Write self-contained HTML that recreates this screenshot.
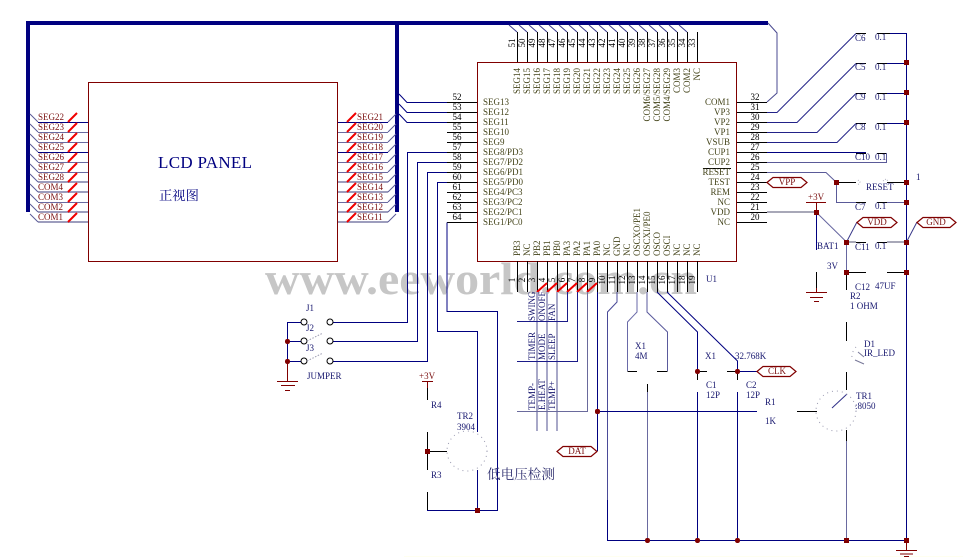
<!DOCTYPE html>
<html><head><meta charset="utf-8"><style>
html,body{margin:0;padding:0;background:#fff}
svg{display:block}
text{font-family:"Liberation Serif","Noto Serif CJK SC",serif;font-size:9px}
.c text,text.c{fill:#44441a}
.n text{fill:#000}
.b text,text.b{fill:#16166e}
.m text,text.m{fill:#7a1010}
.t path{fill:#fff;stroke:#800000;stroke-width:1.2}
</style></head><body>
<svg width="963" height="557" viewBox="0 0 963 557" xmlns="http://www.w3.org/2000/svg" fill="none" shape-rendering="auto">
<rect x="404" y="556" width="559" height="1" fill="#fffff0"/>
<text x="265" y="294" textLength="432" lengthAdjust="spacingAndGlyphs" style="font-size:46px;font-weight:bold;fill:#c6c6c6">www.eeworld.com.cn</text>

<!-- buses -->
<path d="M28 212V23H768M397 23V212" stroke="#000080" stroke-width="4"/>
<path d="M768 23L777 33V93L767 102" stroke="#4a4a90"/>

<!-- LCD panel and chip -->
<rect x="88.5" y="82.5" width="249" height="179" stroke="#800000"/>
<rect x="477.5" y="62.5" width="259" height="199" stroke="#800000"/>

<!-- LCD pins -->
<path d="M38 122.5H88M38 152.5H88M338 122.5H388M338 152.5H388" stroke="#000080"/>
<path d="M38 132.5H88M38 142.5H88M38 162.5H88M38 172.5H88M38 202.5H88M338 132.5H388M338 142.5H388M338 162.5H388M338 172.5H388M338 202.5H388" stroke="#6a6aa0"/>
<path d="M38 182H88M38 192H88M38 212H88M38 222H88M338 182H388M338 192H388M338 212H388M338 222H388" stroke="#9d9dbd" stroke-width="2"/>
<path d="M30 114l8 8M30 124l8 8M30 134l8 8M30 144l8 8M30 154l8 8M30 164l8 8M30 174l8 8M30 184l8 8M30 194l8 8M30 204l8 8M30 214l8 8M388 122l8-8M388 132l8-8M388 142l8-8M388 152l8-8M388 162l8-8M388 172l8-8M388 182l8-8M388 192l8-8M388 202l8-8M388 212l8-8M388 222l8-8" stroke="#5a5a98"/>
<path d="M68 122l9-9M68 132l9-9M68 142l9-9M68 152l9-9M68 162l9-9M68 172l9-9M68 182l9-9M68 192l9-9M68 202l9-9M68 212l9-9M68 222l9-9M347 122l9-9M347 132l9-9M347 142l9-9M347 152l9-9M347 162l9-9M347 172l9-9M347 182l9-9M347 192l9-9M347 202l9-9M347 212l9-9M347 222l9-9" stroke="#f00000" stroke-width="2"/>

<!-- chip pins -->
<path d="M447 102.5H477M447 112.5H477M447 122.5H477M447 132.5H477M447 142.5H477M447 152.5H477M447 162.5H477M447 172.5H477M447 182.5H477M447 192.5H477M447 202.5H477M447 212.5H477M447 222.5H477M737 102.5H767M737 112.5H767M737 122.5H767M737 132.5H767M737 142.5H767M737 152.5H767M737 162.5H767M737 172.5H767M737 182.5H767M737 192.5H767M737 202.5H767M737 212.5H767M737 222.5H767" stroke="#000"/>
<path d="M517.5 32V62M527.5 32V62M537.5 32V62M547.5 32V62M557.5 32V62M567.5 32V62M577.5 32V62M587.5 32V62M597.5 32V62M607.5 32V62M617.5 32V62M627.5 32V62M637.5 32V62M647.5 32V62M657.5 32V62M667.5 32V62M677.5 32V62M687.5 32V62M697.5 32V62M517.5 261V292M527.5 261V292M537.5 261V292M547.5 261V292M557.5 261V292M567.5 261V292M577.5 261V292M587.5 261V292M597.5 261V292M607.5 261V292M617.5 261V292M627.5 261V292M637.5 261V292M647.5 261V292M657.5 261V292M667.5 261V292M677.5 261V292M687.5 261V292M697.5 261V292" stroke="#000"/>
<path d="M509 25l8 7M519 25l8 7M529 25l8 7M539 25l8 7M549 25l8 7M559 25l8 7M569 25l8 7M579 25l8 7M589 25l8 7M599 25l8 7M609 25l8 7M619 25l8 7M629 25l8 7M639 25l8 7M649 25l8 7M659 25l8 7M669 25l8 7M679 25l8 7" stroke="#3a3a8a"/>
<path d="M537 292l10-9M547 292l10-9M557 292l10-9M567 292l10-9M577 292l10-9M587 292l10-9" stroke="#f00000" stroke-width="2"/>
<path d="M703 168.5H731" stroke="#000"/>

<!-- left chip wires -->
<path d="M399 94l8 8.5H447M399 104l8 8.5H447M399 114l8 8.5H447" stroke="#000080"/>
<path d="M447 152.5H407.5V322.5H333M447 162.5H417.5V341.5H333M447 172.5H427.5V361.5H333M447 182.5H437.5V331.5H477.5V432M447 222.5V311.5H497.5V510.5H427.5V501M477.5 470V510" stroke="#000080"/>

<!-- bottom wires -->
<path d="M537 292V431M547 292V431M557 292V431" stroke="#a8a8c8" stroke-width="2"/>
<path d="M567.5 292V321.5H517M577.5 292V361.5H517" stroke="#1a1a88"/>
<path d="M587.5 292V411.5H517" stroke="#6a6a9c"/>
<path d="M597.5 292V451" stroke="#000080"/>
<path d="M617 292V302L607.5 312V540.5H906.5" stroke="#4a4a98"/>
<path d="M607.5 500V540.5H906.5" stroke="#000080"/>
<path d="M637 292V312L627.5 322V371" stroke="#6a6aa8"/>
<path d="M647 292V312L667.5 332V371" stroke="#5a5a9c"/>
<path d="M627.5 371.5H637M657 371.5H667.5M647.5 384V392" stroke="#000"/>
<path d="M647.5 392V540" stroke="#6a6aa0"/>
<path d="M657 292L697.5 332V371.5M667 292L737.5 361V371.5" stroke="#000080"/>
<path d="M697 371.5H707M727 371.5H737M697.5 371.5V380M737.5 371.5V380" stroke="#000"/>
<path d="M737 371.5H757M697.5 392V540M737.5 392V540" stroke="#000080"/>
<path d="M597 411.5H757" stroke="#000080"/>
<path d="M797 411.5H817" stroke="#000"/>

<!-- right wires -->
<path d="M767 112.5H777L856 33.5M767 122.5H797L856 63.5M767 132.5H817L856 93.5M767 142.5H837L856 123.5" stroke="#222288"/>
<path d="M856 33.5H866M856 63.5H866M856 93.5H866M856 123.5H866M856 153.5H866M877 33.5H890M877 63.5H887M877 93.5H887M877 123.5H887M877 153.5H886M839 182.5H856M887 182.5H905M856 202.5H866M877 202.5H887M856 242.5H866M877 242.5H887M846 272.5H866M887 272.5H906" stroke="#000"/>
<path d="M890 33.5H906.5V540M887 63.5H906M887 93.5H906M887 123.5H906M767 152.5H866M836.5 182.5" stroke="#000080"/>
<path d="M767 162.5H886.5V153M767 172.5H826L836.5 182.5M836.5 182.5V202.5H856M887 202.5H906" stroke="#5a5a98"/>
<path d="M767 212H816M846 242H856M887 242H906" stroke="#a8a8b8" stroke-width="2"/>
<path d="M816 212L846.5 242V272" stroke="#6666a0"/>
<path d="M846.5 242L857 222M906.5 242L917 222" stroke="#3a3a8a"/>
<path d="M816.5 212V250" stroke="#000080"/>
<path d="M816.5 272V290M846.5 272V290M846.5 322V341M846.5 372V390M846.5 430V441" stroke="#000"/>
<path d="M846.5 441V540" stroke="#6a6aa0"/>
<path d="M832 408L847 394" stroke="#303088"/>
<path d="M858 352L864 357M855 360L864 364" stroke="#777798"/>

<!-- grounds, power -->
<path d="M816.5 288V292M806 292.5H827M810 297.5H823M814 301.5H819M906.5 540V550M896 550.5H917M900 554H913M904 556.5H909M806 202.5H826M816.5 202.5V212M287.5 361V381M277 381.5H298M281 385.5H295M285 390.5H290M422 381.5H433M427.5 381V388" stroke="#800000"/>
<path d="M427.5 388V400M427.5 432V470M427.5 492V510" stroke="#000"/>
<path d="M427.5 451.5H447" stroke="#000"/>

<!-- jumpers -->
<path d="M333 322.5H330M287.5 322V361M287.5 322.5H301M287.5 341.5H301M287.5 361.5H301" stroke="#000080"/>
<circle cx="304" cy="322" r="3" fill="#fff" stroke="#000"/><circle cx="304" cy="341" r="3" fill="#fff" stroke="#000"/><circle cx="304" cy="361" r="3" fill="#fff" stroke="#000"/>
<circle cx="330" cy="322" r="3" fill="#fff" stroke="#000"/><circle cx="330" cy="341" r="3" fill="#fff" stroke="#000"/><circle cx="330" cy="361" r="3" fill="#fff" stroke="#000"/>
<path d="M307 341L323 333M307 361L323 353" stroke="#9a9ab0" stroke-dasharray="1.5 1.5"/>

<!-- dotted shapes -->
<g stroke="#9a9ab0" stroke-dasharray="1 4">
<circle cx="467" cy="451" r="20"/>
<circle cx="836" cy="411" r="20"/>
<path d="M856 347A15 15 0 0 0 852 359"/>
</g>
<path d="M858 180l2 2l-2 3M883 181l3-2l2 2" stroke="#b0b0c0" stroke-dasharray="1 1.5"/>

<!-- junctions -->
<g fill="#800000">
<rect x="285" y="339" width="5" height="5" rx="2.2"/><rect x="285" y="359" width="5" height="5" rx="2.2"/>
<rect x="425" y="449" width="5" height="5"/><rect x="475" y="508" width="5" height="5"/>
<rect x="595" y="409" width="5" height="5" rx="2"/><rect x="645" y="538" width="5" height="5" rx="2.2"/>
<rect x="695" y="538" width="5" height="5" rx="2.2"/><rect x="735" y="538" width="5" height="5" rx="2.2"/>
<rect x="844" y="538" width="5" height="5"/><rect x="904" y="538" width="5" height="5"/>
<rect x="695" y="369" width="5" height="5" rx="2.2"/><rect x="735" y="369" width="5" height="5" rx="2.2"/>
<rect x="904" y="60" width="5" height="5"/><rect x="904" y="90" width="5" height="5"/>
<rect x="904" y="120" width="5" height="5"/><rect x="904" y="180" width="5" height="5"/>
<rect x="904" y="200" width="5" height="5"/><rect x="904" y="240" width="5" height="5"/>
<rect x="904" y="270" width="5" height="5"/><rect x="834" y="180" width="5" height="5"/>
<rect x="814" y="210" width="5" height="5"/><rect x="844" y="240" width="5" height="5"/>
<rect x="844" y="270" width="5" height="5"/>
</g>

<!-- tags -->
<g class="t">
<path d="M767 182.5L773 177.5H801L807 182.5L801 187.5H773Z"/>
<path d="M857 222.5L863 217.5H891L897 222.5L891 227.5H863Z"/>
<path d="M917 222.5L923 217.5H950L956 222.5L950 227.5H923Z"/>
<path d="M757 371.5L763 366.5H790L796 371.5L790 376.5H763Z"/>
<path d="M557 451.5L563 446.5H591L597 451.5L591 456.5H563Z"/>
</g>
<g class="m" text-anchor="middle">
<text x="787" y="185">VPP</text><text x="877" y="225">VDD</text><text x="936" y="225">GND</text><text x="777" y="374">CLK</text><text x="577" y="454">DAT</text>
</g>

<!-- LCD text -->
<text x="158" y="168" textLength="94" style="font-size:17px" fill="#000080">LCD PANEL</text>
<text x="159" y="200" style="font-size:13.3px" fill="#000080">正视图</text>
<g class="m">
<text x="38" y="120">SEG22</text><text x="38" y="130">SEG23</text><text x="38" y="140">SEG24</text><text x="38" y="150">SEG25</text><text x="38" y="160">SEG26</text><text x="38" y="170">SEG27</text><text x="38" y="180">SEG28</text><text x="38" y="190">COM4</text><text x="38" y="200">COM3</text><text x="38" y="210">COM2</text><text x="38" y="220">COM1</text>
<text x="357" y="120">SEG21</text><text x="357" y="130">SEG20</text><text x="357" y="140">SEG19</text><text x="357" y="150">SEG18</text><text x="357" y="160">SEG17</text><text x="357" y="170">SEG16</text><text x="357" y="180">SEG15</text><text x="357" y="190">SEG14</text><text x="357" y="200">SEG13</text><text x="357" y="210">SEG12</text><text x="357" y="220">SEG11</text>
</g>

<!-- chip left/right labels -->
<g class="c">
<text x="483" y="105">SEG13</text><text x="483" y="115">SEG12</text><text x="483" y="125">SEG11</text><text x="483" y="135">SEG10</text><text x="483" y="145">SEG9</text><text x="483" y="155">SEG8/PD3</text><text x="483" y="165">SEG7/PD2</text><text x="483" y="175">SEG6/PD1</text><text x="483" y="185">SEG5/PD0</text><text x="483" y="195">SEG4/PC3</text><text x="483" y="205">SEG3/PC2</text><text x="483" y="215">SEG2/PC1</text><text x="483" y="225">SEG1/PC0</text>
</g>
<g class="c" text-anchor="end">
<text x="730" y="105">COM1</text><text x="730" y="115">VP3</text><text x="730" y="125">VP2</text><text x="730" y="135">VP1</text><text x="730" y="145">VSUB</text><text x="730" y="155">CUP1</text><text x="730" y="165">CUP2</text><text x="730" y="175">RESET</text><text x="730" y="185">TEST</text><text x="730" y="195">REM</text><text x="730" y="205">NC</text><text x="730" y="215">VDD</text><text x="730" y="225">NC</text>
</g>

<!-- pin numbers -->
<g class="n" text-anchor="middle">
<text x="457" y="100">52</text><text x="457" y="110">53</text><text x="457" y="120">54</text><text x="457" y="130">55</text><text x="457" y="140">56</text><text x="457" y="150">57</text><text x="457" y="160">58</text><text x="457" y="170">59</text><text x="457" y="180">60</text><text x="457" y="190">61</text><text x="457" y="200">62</text><text x="457" y="210">63</text><text x="457" y="220">64</text>
<text x="755" y="100">32</text><text x="755" y="110">31</text><text x="755" y="120">30</text><text x="755" y="130">29</text><text x="755" y="140">28</text><text x="755" y="150">27</text><text x="755" y="160">26</text><text x="755" y="170">25</text><text x="755" y="180">24</text><text x="755" y="190">23</text><text x="755" y="200">22</text><text x="755" y="210">21</text><text x="755" y="220">20</text>
<text transform="rotate(-90 515 43)" x="515" y="43">51</text><text transform="rotate(-90 525 43)" x="525" y="43">50</text><text transform="rotate(-90 535 43)" x="535" y="43">49</text><text transform="rotate(-90 545 43)" x="545" y="43">48</text><text transform="rotate(-90 555 43)" x="555" y="43">47</text><text transform="rotate(-90 565 43)" x="565" y="43">46</text><text transform="rotate(-90 575 43)" x="575" y="43">45</text><text transform="rotate(-90 585 43)" x="585" y="43">44</text><text transform="rotate(-90 595 43)" x="595" y="43">43</text><text transform="rotate(-90 605 43)" x="605" y="43">42</text><text transform="rotate(-90 615 43)" x="615" y="43">41</text><text transform="rotate(-90 625 43)" x="625" y="43">40</text><text transform="rotate(-90 635 43)" x="635" y="43">39</text><text transform="rotate(-90 645 43)" x="645" y="43">38</text><text transform="rotate(-90 655 43)" x="655" y="43">37</text><text transform="rotate(-90 665 43)" x="665" y="43">36</text><text transform="rotate(-90 675 43)" x="675" y="43">35</text><text transform="rotate(-90 685 43)" x="685" y="43">34</text><text transform="rotate(-90 695 43)" x="695" y="43">33</text>
<text transform="rotate(-90 515 280)" x="515" y="280">1</text><text transform="rotate(-90 525 280)" x="525" y="280">2</text><text transform="rotate(-90 535 280)" x="535" y="280">3</text><text transform="rotate(-90 545 280)" x="545" y="280">4</text><text transform="rotate(-90 555 280)" x="555" y="280">5</text><text transform="rotate(-90 565 280)" x="565" y="280">6</text><text transform="rotate(-90 575 280)" x="575" y="280">7</text><text transform="rotate(-90 585 280)" x="585" y="280">8</text><text transform="rotate(-90 595 280)" x="595" y="280">9</text><text transform="rotate(-90 605 280)" x="605" y="280">10</text><text transform="rotate(-90 615 280)" x="615" y="280">11</text><text transform="rotate(-90 625 280)" x="625" y="280">12</text><text transform="rotate(-90 635 280)" x="635" y="280">13</text><text transform="rotate(-90 645 280)" x="645" y="280">14</text><text transform="rotate(-90 655 280)" x="655" y="280">15</text><text transform="rotate(-90 665 280)" x="665" y="280">16</text><text transform="rotate(-90 675 280)" x="675" y="280">17</text><text transform="rotate(-90 685 280)" x="685" y="280">18</text><text transform="rotate(-90 695 280)" x="695" y="280">19</text>
</g>

<!-- top rotated labels -->
<g class="c" text-anchor="end">
<text transform="rotate(-90 520 68)" x="520" y="68">SEG14</text><text transform="rotate(-90 530 68)" x="530" y="68">SEG15</text><text transform="rotate(-90 540 68)" x="540" y="68">SEG16</text><text transform="rotate(-90 550 68)" x="550" y="68">SEG17</text><text transform="rotate(-90 560 68)" x="560" y="68">SEG18</text><text transform="rotate(-90 570 68)" x="570" y="68">SEG19</text><text transform="rotate(-90 580 68)" x="580" y="68">SEG20</text><text transform="rotate(-90 590 68)" x="590" y="68">SEG21</text><text transform="rotate(-90 600 68)" x="600" y="68">SEG22</text><text transform="rotate(-90 610 68)" x="610" y="68">SEG23</text><text transform="rotate(-90 620 68)" x="620" y="68">SEG24</text><text transform="rotate(-90 630 68)" x="630" y="68">SEG25</text><text transform="rotate(-90 640 68)" x="640" y="68">SEG26</text><text transform="rotate(-90 650 68)" x="650" y="68">COM6/SEG27</text><text transform="rotate(-90 660 68)" x="660" y="68">COM5/SEG28</text><text transform="rotate(-90 670 68)" x="670" y="68">COM4/SEG29</text><text transform="rotate(-90 680 68)" x="680" y="68">COM3</text><text transform="rotate(-90 690 68)" x="690" y="68">COM2</text><text transform="rotate(-90 700 68)" x="700" y="68">NC</text>
</g>
<!-- bottom rotated labels -->
<g class="c">
<text transform="rotate(-90 520 256)" x="520" y="256">PB3</text><text transform="rotate(-90 530 256)" x="530" y="256">NC</text><text transform="rotate(-90 540 256)" x="540" y="256">PB2</text><text transform="rotate(-90 550 256)" x="550" y="256">PB1</text><text transform="rotate(-90 560 256)" x="560" y="256">PB0</text><text transform="rotate(-90 570 256)" x="570" y="256">PA3</text><text transform="rotate(-90 580 256)" x="580" y="256">PA2</text><text transform="rotate(-90 590 256)" x="590" y="256">PA1</text><text transform="rotate(-90 600 256)" x="600" y="256">PA0</text><text transform="rotate(-90 610 256)" x="610" y="256">NC</text><text transform="rotate(-90 620 256)" x="620" y="256">GND</text><text transform="rotate(-90 630 256)" x="630" y="256">NC</text><text transform="rotate(-90 640 256)" x="640" y="256">OSCXO/PE1</text><text transform="rotate(-90 650 256)" x="650" y="256">OSCXI/PE0</text><text transform="rotate(-90 660 256)" x="660" y="256">OSCO</text><text transform="rotate(-90 670 256)" x="670" y="256">OSCI</text><text transform="rotate(-90 680 256)" x="680" y="256">NC</text><text transform="rotate(-90 690 256)" x="690" y="256">NC</text><text transform="rotate(-90 700 256)" x="700" y="256">NC</text>
</g>

<!-- function labels -->
<g class="b">
<text transform="rotate(-90 535 321)" x="535" y="321">SWING</text><text transform="rotate(-90 545 321)" x="545" y="321">ONOFF</text><text transform="rotate(-90 555 321)" x="555" y="321">FAN</text>
<text transform="rotate(-90 535 360)" x="535" y="360">TIMER</text><text transform="rotate(-90 545 360)" x="545" y="360">MODE</text><text transform="rotate(-90 555 360)" x="555" y="360">SLEEP</text>
<text transform="rotate(-90 535 410)" x="535" y="410">TEMP-</text><text transform="rotate(-90 545 410)" x="545" y="410">E.HEAT</text><text transform="rotate(-90 555 410)" x="555" y="410">TEMP+</text>

<text x="706" y="282">U1</text>
<text x="855" y="41">C6</text><text x="875" y="40">0.1</text>
<text x="855" y="70">C5</text><text x="875" y="70">0.1</text>
<text x="855" y="100">C9</text><text x="875" y="100">0.1</text>
<text x="855" y="130">C8</text><text x="875" y="130">0.1</text>
<text x="855" y="160">C10</text><text x="875" y="160">0.1</text>
<text x="866" y="190">RESET</text><text x="916" y="180">1</text>
<text x="855" y="210">C7</text><text x="875" y="209">0.1</text>
<text x="817" y="249">BAT1</text><text x="827" y="269">3V</text>
<text x="855" y="250">C11</text><text x="875" y="249">0.1</text>
<text x="855" y="290">C12</text><text x="875" y="289">47UF</text>
<text x="850" y="299">R2</text><text x="850" y="309">1 OHM</text>
<text x="864" y="347">D1</text><text x="864" y="356">IR_LED</text>
<text x="856" y="399">TR1</text><text x="855" y="409">:8050</text>
<text x="765" y="405">R1</text><text x="765" y="424">1K</text>
<text x="635" y="349">X1</text><text x="635" y="359">4M</text>
<text x="705" y="359">X1</text><text x="735" y="359">32.768K</text>
<text x="706" y="388">C1</text><text x="706" y="398">12P</text>
<text x="746" y="388">C2</text><text x="746" y="398">12P</text>
<text x="306" y="311">J1</text><text x="306" y="331">J2</text><text x="306" y="351">J3</text><text x="307" y="379">JUMPER</text>
<text x="431" y="408">R4</text><text x="431" y="478">R3</text>
<text x="457" y="419">TR2</text><text x="457" y="430">3904</text>
</g>
<text x="487" y="479" style="font-size:13.6px" fill="#303070">低电压检测</text>
<text class="m" x="419" y="379">+3V</text>
<text class="m" x="808" y="200">+3V</text>
</svg>
</body></html>
